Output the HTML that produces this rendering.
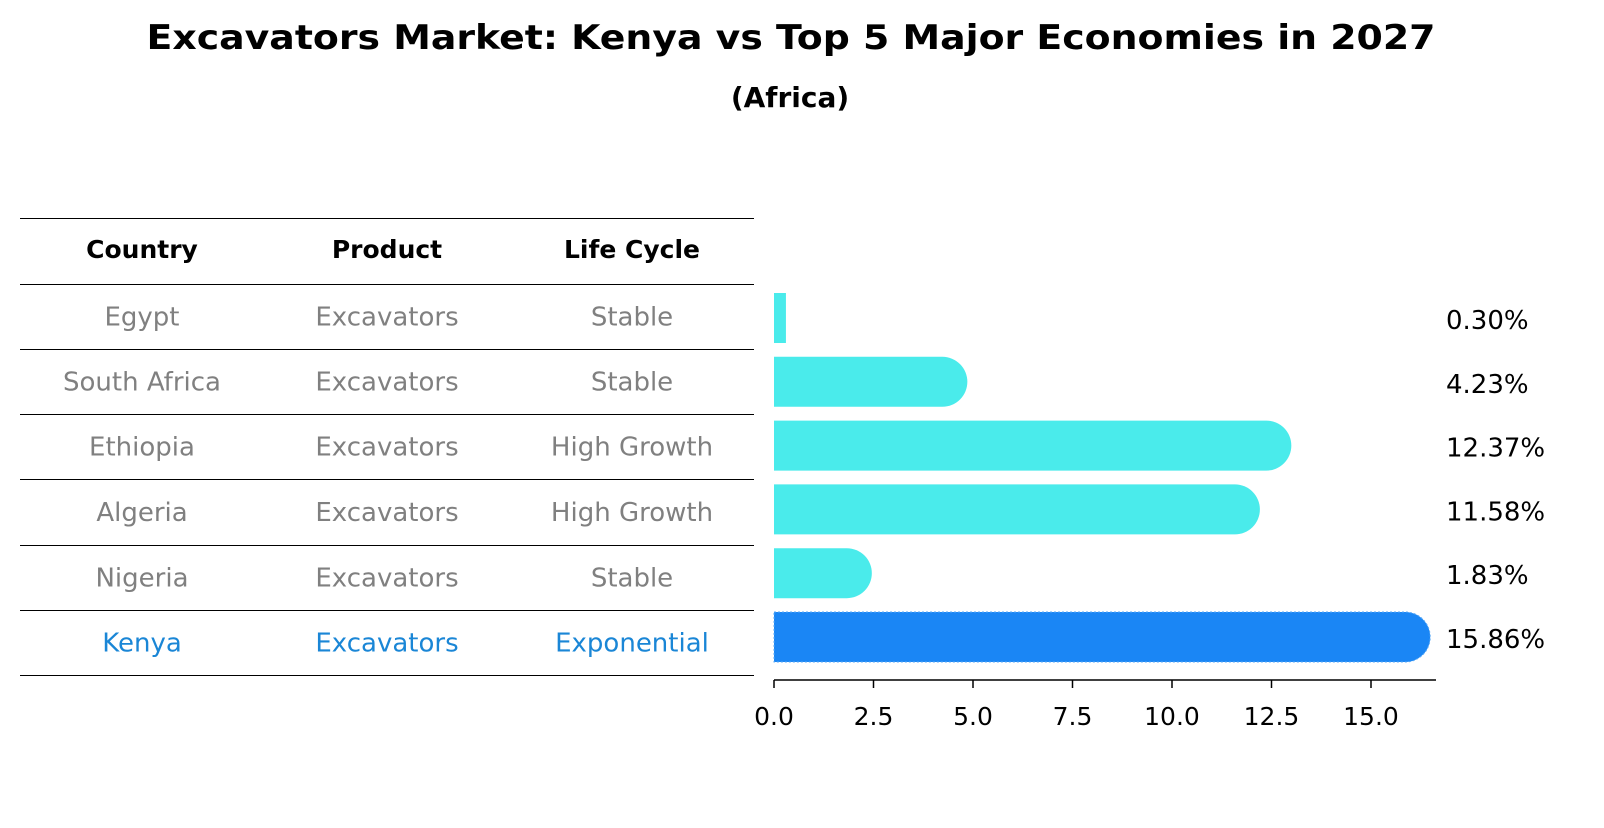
<!DOCTYPE html>
<html><head><meta charset="utf-8"><style>
body{margin:0;background:#fff;width:1604px;height:823px;overflow:hidden;font-family:"Liberation Sans","DejaVu Sans",sans-serif}
</style></head><body>
<svg width="1604" height="823" xmlns="http://www.w3.org/2000/svg" font-family="DejaVu Sans, Liberation Sans, sans-serif">
<text x="791" y="49" text-anchor="middle" font-size="34" font-weight="bold" textLength="1289" lengthAdjust="spacingAndGlyphs">Excavators Market: Kenya vs Top 5 Major Economies in 2027</text>
<text x="790" y="107" text-anchor="middle" font-size="28" font-weight="bold">(Africa)</text>
<g id="table"></g>
<g id="bars"></g>
</svg>
<script>
const countries=["Egypt","South Africa","Ethiopia","Algeria","Nigeria","Kenya"];
const products=["Excavators","Excavators","Excavators","Excavators","Excavators","Excavators"];
const lifecycles=["Stable","Stable","High Growth","High Growth","Stable","Exponential"];
const values=[0.30,4.23,12.37,11.58,1.83,15.86];
const ticks=[0,2.5,5,7.5,10,12.5,15];
const NS="http://www.w3.org/2000/svg";
function mk(t,a,p){const e=document.createElementNS(NS,t);for(const k in a)e.setAttribute(k,a[k]);p.appendChild(e);return e;}
const x0=774,ppu=39.8;
function xs(v){return x0+v*ppu;}
function ys(i){return 318+i*63.8;}
const tb=document.getElementById('table');
const lines=[218,284,349,414,479,545,610,675];
lines.forEach(y=>{const l=mk('line',{x1:20,x2:754,y1:y+0.5,y2:y+0.5,stroke:'#000','stroke-width':1},tb);

});
const cols=[142,387,632];
["Country","Product","Life Cycle"].forEach((h,j)=>{const t=mk('text',{x:cols[j],y:258,'text-anchor':'middle','font-size':25,'font-weight':'bold'},tb);t.textContent=h;

});
countries.forEach((c,i)=>{const y=(lines[i+1]+lines[i+2])/2+9;const col=i==5?'#1a86d6':'#808080';
[c,products[i],lifecycles[i]].forEach((s,j)=>{const t=mk('text',{x:cols[j],y:y,'text-anchor':'middle','font-size':26,fill:col},tb);t.textContent=s;

});});
const g=document.getElementById('bars');
values.forEach((v,i)=>{const y=ys(i),h=50;const col=i==5?'#1a86f5':'#4aebeb';
let d;const xe=xs(v);
if(v<1){d=`M${x0},${y-h/2}H${xe}V${y+h/2}H${x0}Z`;}
else{const r=25;d=`M${x0},${y-h/2}H${xe}A${r},${r} 0 0 1 ${xe},${y+h/2}H${x0}Z`;}
const p=mk('path',{d:d,fill:col},g);
if(i==5){p.setAttribute('stroke','#5aaaf7');p.setAttribute('stroke-dasharray','2 2');p.setAttribute('stroke-width','1');}


const t=mk('text',{x:1446,y:y+11,'font-size':26},g);t.textContent=v.toFixed(2)+'%';

});
const ax=mk('line',{x1:x0,x2:1436,y1:680,y2:680,stroke:'#000','stroke-width':1.5},g);


ticks.forEach(v=>{mk('line',{x1:xs(v),x2:xs(v),y1:680,y2:688,stroke:'#000','stroke-width':1.5},g);
const t=mk('text',{x:xs(v),y:725,'text-anchor':'middle','font-size':25},g);t.textContent=v.toFixed(1);

});
</script>
</body></html>
